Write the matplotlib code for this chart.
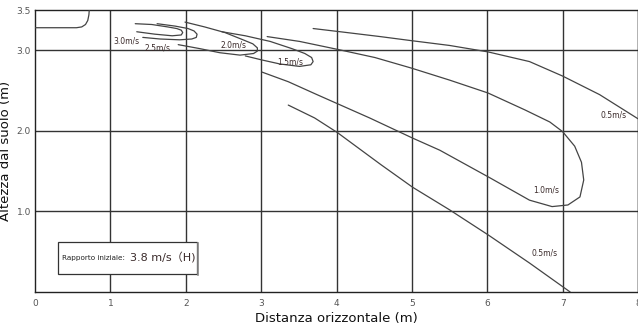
import matplotlib
matplotlib.use('Agg')
import matplotlib.pyplot as plt
from matplotlib.patches import Rectangle

# isovelocity contours (x = distance m, y = height m)
outlet_x = [0.0, 0.55, 0.62, 0.67, 0.70, 0.715, 0.72]
outlet_y = [3.28, 3.28, 3.29, 3.32, 3.37, 3.44, 3.50]

v30_x = [1.33, 1.55, 1.76, 1.88, 1.94, 1.96, 1.94, 1.82, 1.59, 1.35]
v30_y = [3.33, 3.32, 3.29, 3.27, 3.25, 3.22, 3.19, 3.18, 3.20, 3.23]

v25_x = [1.62, 1.86, 2.03, 2.11, 2.15, 2.14, 2.08, 1.92, 1.66, 1.43]
v25_y = [3.33, 3.30, 3.27, 3.24, 3.20, 3.16, 3.14, 3.13, 3.14, 3.16]

v20_x = [1.99, 2.25, 2.52, 2.76, 2.89, 2.95, 2.95, 2.90, 2.72, 2.45, 2.19, 1.90]
v20_y = [3.35, 3.29, 3.22, 3.13, 3.08, 3.03, 2.99, 2.96, 2.94, 2.97, 3.02, 3.07]

v15_x = [2.48, 2.79, 3.12, 3.41, 3.58, 3.67, 3.69, 3.66, 3.51, 3.25, 3.01, 2.79]
v15_y = [3.23, 3.18, 3.11, 3.02, 2.96, 2.91, 2.86, 2.82, 2.80, 2.83, 2.88, 2.93]

v10_x = [3.08, 3.51, 4.02, 4.51, 4.99, 5.50, 6.01, 6.50, 6.83, 7.00, 7.16, 7.25,
         7.28, 7.23, 7.07, 6.86, 6.56, 6.03, 5.37, 5.01, 4.44, 3.74, 3.36, 3.01]
v10_y = [3.17, 3.11, 3.01, 2.91, 2.78, 2.63, 2.47, 2.26, 2.11, 1.99, 1.81, 1.61,
         1.39, 1.18, 1.08, 1.06, 1.14, 1.42, 1.76, 1.91, 2.16, 2.45, 2.61, 2.73]

v05a_x = [3.69, 4.05, 4.58, 4.99, 5.50, 6.01, 6.56, 7.00, 7.49, 8.00]
v05a_y = [3.27, 3.23, 3.17, 3.12, 3.06, 2.98, 2.86, 2.68, 2.45, 2.15]

v05b_x = [3.36, 3.71, 4.01, 4.59, 5.01, 5.50, 6.01, 6.56, 7.10]
v05b_y = [2.32, 2.16, 1.98, 1.58, 1.30, 1.02, 0.71, 0.36, 0.00]

labels = ['3.0m/s', '2.5m/s', '2.0m/s', '1.5m/s', '0.5m/s', '1.0m/s', '0.5m/s']
label_x = [1.21, 1.63, 2.63, 3.38, 7.67, 6.78, 6.76]
label_y = [3.12, 3.03, 3.07, 2.86, 2.20, 1.27, 0.48]

x_ticks = [0, 1, 2, 3, 4, 5, 6, 7, 8]
y_ticks = [1.0, 2.0, 3.0, 3.5]

fig = plt.figure(figsize=(6.38, 3.31), dpi=100)
ax = fig.add_axes([35 / 638, 1 - 292 / 331, 603 / 638, 282 / 331])
ax.set_xlim(0, 8)
ax.set_ylim(0, 3.5)

for xv in x_ticks[1:]:
    ax.axvline(xv, color='#333333', lw=1.0, zorder=1)
for yv in [1.0, 2.0, 3.0]:
    ax.axhline(yv, color='#333333', lw=1.0, zorder=1)

curve_col = '#444444'
for cx, cy in [(outlet_x, outlet_y), (v30_x, v30_y), (v25_x, v25_y), (v20_x, v20_y),
               (v15_x, v15_y), (v10_x, v10_y), (v05a_x, v05a_y), (v05b_x, v05b_y)]:
    ax.plot(cx, cy, color=curve_col, lw=0.9, zorder=3, solid_capstyle='round')

for t, lx, ly in zip(labels, label_x, label_y):
    ax.text(lx, ly, t, fontsize=5.5, color='#3a2a2a', ha='center', va='center', zorder=4)

# info box
ax.add_patch(Rectangle((0.305, 0.22), 1.845, 0.40, facecolor='white',
                       edgecolor='#333333', lw=0.9, zorder=5))
ax.plot([2.16, 2.16], [0.21, 0.61], color='#888888', lw=1.2, zorder=5)
ax.text(0.36, 0.42, 'Rapporto iniziale:', fontsize=5.2, color='#222222',
        va='center', ha='left', zorder=6)
ax.text(1.26, 0.42, '3.8 m/s（H)', fontsize=8, color='#3a2a2a',
        va='center', ha='left', zorder=6,
        family=['DejaVu Sans', 'Noto Sans CJK JP'])

ax.set_xticks(x_ticks)
ax.set_xticklabels([str(v) for v in x_ticks])
ax.set_yticks(y_ticks)
ax.set_yticklabels(['%.1f' % v for v in y_ticks])
ax.tick_params(axis='x', length=0, labelsize=6.5, labelcolor='#555555', pad=5)
ax.tick_params(axis='y', length=0, labelsize=6.5, labelcolor='#555555', pad=3)

for s in ax.spines.values():
    s.set_color('#222222')
    s.set_linewidth(1.0)

ax.set_xlabel('Distanza orizzontale (m)', fontsize=9.5, color='#111111', labelpad=3)
ax.set_ylabel('Altezza dal suolo (m)', fontsize=9.5, color='#111111')
ax.yaxis.set_label_coords(-23 / 603, 0.5)

fig.savefig('out.png', dpi=100)
